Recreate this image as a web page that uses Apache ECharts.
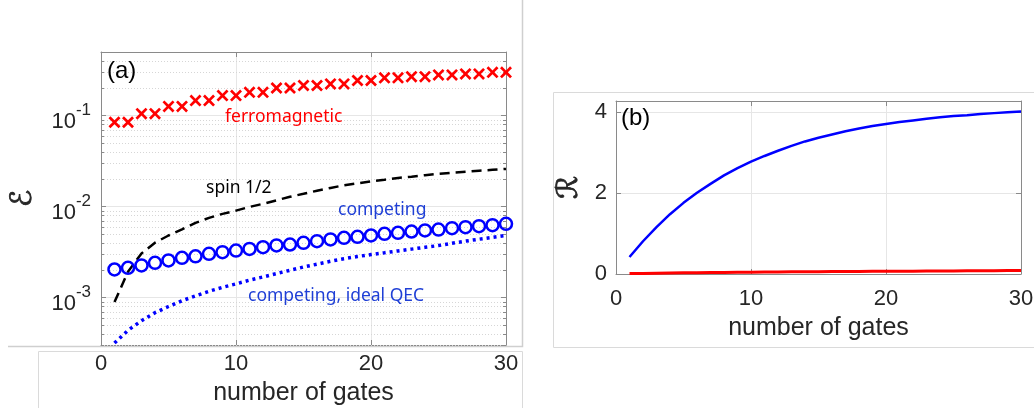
<!DOCTYPE html>
<html><head><meta charset="utf-8">
<script src="https://cdn.jsdelivr.net/npm/echarts@6/dist/echarts.min.js"></script>
<style>html,body{margin:0;padding:0;background:#fff}#c{width:1034px;height:408px}</style>
</head><body><div id="c"></div>
<script>
// ---------- data ----------
const gates = [1,2,3,4,5,6,7,8,9,10,11,12,13,14,15,16,17,18,19,20,21,22,23,24,25,26,27,28,29,30];
const ferromagnetic = [0.0844,0.0844,0.105,0.105,0.126,0.126,0.146,0.146,0.166,0.166,0.180,0.180,0.201,0.201,0.214,0.214,0.223,0.223,0.243,0.243,0.260,0.260,0.268,0.268,0.280,0.280,0.287,0.287,0.299,0.299];
const spinHalf = [0.00089,0.00192,0.00305,0.0040,0.0048,0.0056,0.0066,0.0075,0.0083,0.0090,0.0099,0.0107,0.0117,0.0128,0.0138,0.0149,0.0160,0.0171,0.0180,0.0189,0.0197,0.0206,0.0213,0.0221,0.0229,0.0235,0.0241,0.0247,0.0253,0.0259];
const competing = [0.00203,0.00212,0.00225,0.00240,0.00255,0.00273,0.00283,0.00302,0.00315,0.00328,0.00342,0.00357,0.00373,0.00382,0.00399,0.00416,0.00434,0.00453,0.00464,0.00480,0.00501,0.00514,0.00531,0.00545,0.00558,0.00578,0.00593,0.00608,0.00624,0.00645];
const competingIdealQEC = [0.000315,0.000435,0.000555,0.00068,0.000795,0.00092,0.00104,0.00117,0.00129,0.00141,0.00155,0.00168,0.00183,0.00199,0.00216,0.00232,0.00250,0.00267,0.00282,0.00296,0.00310,0.00325,0.00340,0.00356,0.00372,0.00394,0.00416,0.00437,0.00458,0.00480];
const ratioCompeting = [0.42,0.81,1.16,1.48,1.76,2.01,2.23,2.44,2.62,2.78,2.92,3.05,3.17,3.28,3.37,3.45,3.53,3.60,3.66,3.71,3.76,3.80,3.84,3.88,3.91,3.93,3.96,3.98,4.00,4.02];
const ratioFerro = [0.010,0.015,0.020,0.024,0.028,0.032,0.036,0.039,0.042,0.045,0.048,0.051,0.053,0.055,0.057,0.059,0.061,0.063,0.065,0.067,0.069,0.071,0.073,0.075,0.077,0.079,0.081,0.083,0.085,0.087];
const xTicks = [0,10,20,30];
const yTicksA = [0.001,0.01,0.1];
const yTicksB = [0,2,4];

// ---------- helpers ----------
const F = 'Liberation Sans, Arial, sans-serif';
const A = 'Noto Sans, sans-serif';
const axisC = '#8a8a8a';
const txtC = '#262626';
const pairs = (ys) => gates.map((g, i) => [g, ys[i]]);
// minor log grid positions (2..9 x decade) inside the axis range
const minorVals = [];
[1e-4, 1e-3, 1e-2, 1e-1].forEach(d => { for (let k = 2; k <= 9; k++) { const v = k * d; if (v > 3e-4 && v < 0.5) minorVals.push(v); } });

const xBase = (grid, pos, show) => ({
  type: 'value', gridIndex: grid, min: 0, max: 30, interval: 10, position: pos,
  axisLine: { show: true, onZero: false, lineStyle: { color: axisC, width: 1 } },
  axisTick: { show: true, inside: true, length: 5, lineStyle: { color: axisC } },
  axisLabel: { show: show, fontSize: 22, fontFamily: F, color: txtC, margin: grid === 0 ? 7.5 : 13.5,
               formatter: v => xTicks.includes(v) ? String(v) : '' },
  splitLine: { show: show, lineStyle: { color: '#e6e6e6', width: 1 } }
});
const scriptName = { fontSize: 29, fontFamily: 'DejaVu Serif, DejaVu Sans', color: txtC,
                     textBorderColor: txtC, textBorderWidth: 0.8 };

const option = {
  animation: false,
  backgroundColor: '#fff',
  grid: [
    { left: 101, top: 52, width: 405, height: 293, outerBoundsMode: 'none', containLabel: false },
    { left: 616, top: 101, width: 405, height: 173, outerBoundsMode: 'none', containLabel: false }
  ],
  xAxis: [
    Object.assign(xBase(0, 'bottom', true), { name: 'number of gates', nameLocation: 'middle', nameGap: 35.5,
      nameTextStyle: { fontSize: 25, fontFamily: F, color: txtC } }),
    xBase(0, 'top', false),
    Object.assign(xBase(1, 'bottom', true), { name: 'number of gates', nameLocation: 'middle', nameGap: 42,
      nameTextStyle: { fontSize: 25, fontFamily: F, color: txtC } }),
    xBase(1, 'top', false)
  ],
  yAxis: [
    { type: 'log', logBase: 10, gridIndex: 0, min: 3e-4, max: 0.5, position: 'left',
      axisLine: { show: true, onZero: false, lineStyle: { color: axisC } },
      axisTick: { show: true, inside: true, length: 5, lineStyle: { color: axisC } },
      splitLine: { show: true, lineStyle: { color: '#e6e6e6' } },
      axisLabel: { margin: 10,
        formatter: v => { const e = Math.log10(v), r = Math.round(e);
          if (Math.abs(e - r) > 1e-6 || !yTicksA.some(t => Math.abs(Math.log10(t) - e) < 1e-6)) return '';
          return '{b|10}{s|' + r + '}'; },
        rich: { b: { fontSize: 22, fontFamily: F, color: txtC, lineHeight: 22, padding: [12, 0, 0, 0] },
                s: { fontSize: 17, fontFamily: F, color: txtC, lineHeight: 17, padding: [0, 0, 10, 0] } } },
      name: '\u2130', nameLocation: 'middle', nameRotate: 90, nameGap: 63, nameTextStyle: scriptName },
    { type: 'log', logBase: 10, gridIndex: 0, min: 3e-4, max: 0.5, position: 'right',
      axisLine: { show: true, onZero: false, lineStyle: { color: axisC } },
      axisTick: { show: true, inside: true, length: 5, lineStyle: { color: axisC } },
      axisLabel: { show: false }, splitLine: { show: false } },
    { type: 'value', gridIndex: 1, min: 0, max: 4.28, interval: 2, position: 'left',
      axisLine: { show: true, onZero: false, lineStyle: { color: axisC } },
      axisTick: { show: true, inside: true, length: 5, lineStyle: { color: axisC } },
      splitLine: { show: true, lineStyle: { color: '#e6e6e6' } },
      axisLabel: { fontSize: 22, fontFamily: F, color: txtC, margin: 9,
        formatter: v => yTicksB.some(t => Math.abs(t - v) < 1e-9) ? String(v) : '' },
      name: '\u211B', nameLocation: 'middle', nameRotate: 90, nameGap: 32, nameTextStyle: scriptName },
    { type: 'value', gridIndex: 1, min: 0, max: 4.28, interval: 2, position: 'right',
      axisLine: { show: true, onZero: false, lineStyle: { color: axisC } },
      axisTick: { show: true, inside: true, length: 5, lineStyle: { color: axisC } },
      axisLabel: { show: false }, splitLine: { show: false } }
  ],
  series: [
    { type: 'custom', name: 'minorGrid', xAxisIndex: 0, yAxisIndex: 0, z: 1, silent: true,
      data: minorVals.map(v => [0, v]),
      renderItem: (params, api) => {
        const v = api.value(1);
        const p0 = api.coord([0, v]), p1 = api.coord([30, v]);
        const y = Math.round(p0[1]) + 0.5;
        return { type: 'group', children: [
          { type: 'line', shape: { x1: p0[0], y1: y, x2: p1[0], y2: y }, style: { stroke: '#d6d6d6', lineWidth: 1, lineDash: [1, 2] } },
          { type: 'line', shape: { x1: p0[0], y1: y, x2: p0[0] + 3, y2: y }, style: { stroke: axisC, lineWidth: 1 } },
          { type: 'line', shape: { x1: p1[0] - 3, y1: y, x2: p1[0], y2: y }, style: { stroke: axisC, lineWidth: 1 } }
        ] };
      } },
    { type: 'line', name: 'spin 1/2', xAxisIndex: 0, yAxisIndex: 0, data: pairs(spinHalf),
      symbol: 'none', lineStyle: { color: '#000', width: 2.5, type: [10, 6] }, z: 3 },
    { type: 'line', name: 'competing, ideal QEC', xAxisIndex: 0, yAxisIndex: 0, data: pairs(competingIdealQEC),
      symbol: 'none', lineStyle: { color: '#0000ff', width: 3.5, type: [3, 4], cap: 'butt' }, z: 3 },
    { type: 'scatter', name: 'ferromagnetic', xAxisIndex: 0, yAxisIndex: 0, data: pairs(ferromagnetic),
      symbol: 'path://M0,1.9 L1.9,0 L6,4.1 L10.1,0 L12,1.9 L7.9,6 L12,10.1 L10.1,12 L6,7.9 L1.9,12 L0,10.1 L4.1,6 Z',
      symbolSize: 12, itemStyle: { color: '#ff0000', opacity: 1 }, z: 4 },
    { type: 'scatter', name: 'competing', xAxisIndex: 0, yAxisIndex: 0, data: pairs(competing),
      symbol: 'circle', symbolSize: 12,
      itemStyle: { color: 'rgba(0,0,0,0)', borderColor: '#0000ff', borderWidth: 2.5, opacity: 1 }, z: 4 },
    { type: 'line', name: 'R competing', xAxisIndex: 2, yAxisIndex: 2, data: pairs(ratioCompeting),
      symbol: 'none', smooth: false, lineStyle: { color: '#0000ff', width: 2.5 }, z: 3 },
    { type: 'line', name: 'R ferromagnetic', xAxisIndex: 2, yAxisIndex: 2, data: pairs(ratioFerro),
      symbol: 'none', lineStyle: { color: '#ff0000', width: 3 }, z: 3 }
  ],
  graphic: [
    { type: 'polyline', silent: true, z: 0, shape: { points: [[8, 346.5], [522.5, 346.5], [522.5, 0]] },
      style: { stroke: '#cfcfcf', lineWidth: 1.5, fill: null } },
    { type: 'polyline', silent: true, z: 0, shape: { points: [[38.5, 408], [38.5, 351.5], [522.5, 351.5], [522.5, 408]] },
      style: { stroke: '#dadada', lineWidth: 1, fill: null } },
    { type: 'polyline', silent: true, z: 0, shape: { points: [[1034, 92.5], [553.5, 92.5], [553.5, 347.5], [1034, 347.5]] },
      style: { stroke: '#dadada', lineWidth: 1, fill: null } },
    { type: 'text', silent: true, z: 10, style: { text: '(a)', x: 107, y: 71, font: '24px ' + F, fill: '#000', align: 'left', verticalAlign: 'middle' } },
    { type: 'text', silent: true, z: 10, style: { text: '(b)', x: 621, y: 118, font: '24px ' + F, fill: '#000', align: 'left', verticalAlign: 'middle' } },
    { type: 'text', silent: true, z: 10, style: { text: 'ferromagnetic', x: 225, y: 117, font: '17.5px ' + A, fill: '#ff0000', align: 'left', verticalAlign: 'middle' } },
    { type: 'text', silent: true, z: 10, style: { text: 'spin 1/2', x: 206, y: 188, font: '17.5px ' + A, fill: '#000', align: 'left', verticalAlign: 'middle' } },
    { type: 'text', silent: true, z: 10, style: { text: 'competing', x: 338, y: 210.5, font: '17.5px ' + A, fill: '#1f3fd6', align: 'left', verticalAlign: 'middle' } },
    { type: 'text', silent: true, z: 10, style: { text: 'competing, ideal QEC', x: 248, y: 296, font: '17.5px ' + A, fill: '#1f3fd6', align: 'left', verticalAlign: 'middle' } }
  ]
};
const chart = echarts.init(document.getElementById('c'), null, { renderer: 'canvas' });
chart.setOption(option);
</script></body></html>
